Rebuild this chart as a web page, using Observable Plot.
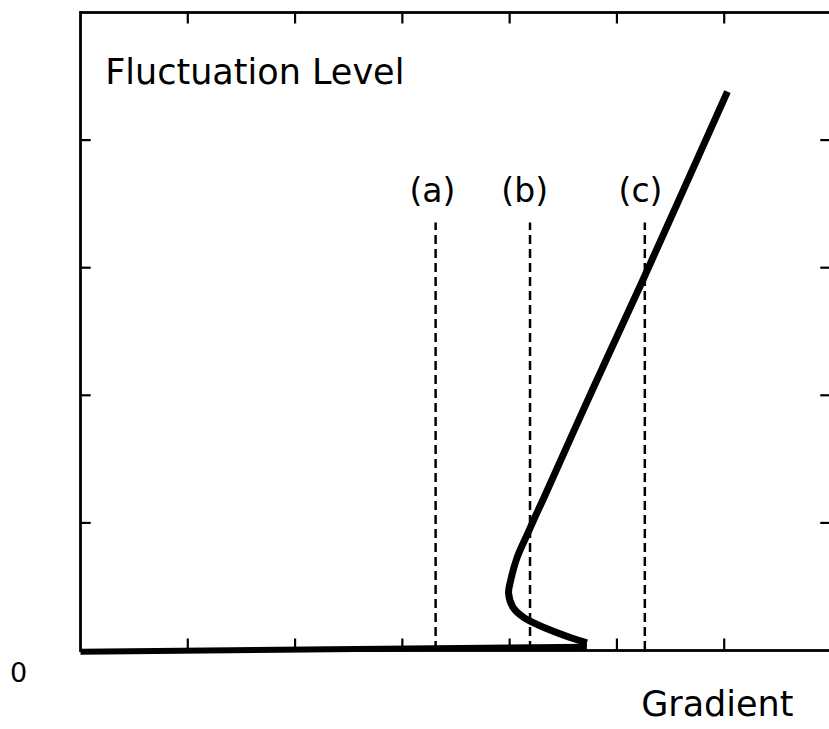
<!DOCTYPE html>
<html>
<head>
<meta charset="utf-8">
<script src="https://cdn.jsdelivr.net/npm/d3@7"></script>
<script src="https://cdn.jsdelivr.net/npm/@observablehq/plot@0.6"></script>
<style>
  html, body { margin: 0; padding: 0; background: white; overflow: hidden; }
</style>
</head>
<body>
<div id="chart"></div>
<script>
// ---- data ----
const xTicks = [1, 2, 3, 4, 5, 6];
const yTicks = [1, 2, 3, 4];
const markerNames = ["(a)", "(b)", "(c)"];
const markerX = [3.31, 4.19, 5.26];
const labelX = [3.28, 4.14, 5.22];
const markerTop = 3.35;
const flatX = [0, 4.72];
const flatY = [-0.01, 0.03];
const curveX = [4.72, 4.57, 4.35, 4.13, 4.03, 3.99, 4.01, 4.07, 4.17, 4.255, 4.31, 4.77, 5.24, 6.03];
const curveY = [0.06, 0.10, 0.17, 0.26, 0.34, 0.45, 0.55, 0.73, 0.92, 1.08, 1.18, 2.04, 2.90, 4.38];
const yTitle = "Fluctuation Level";
const xTitle = "Gradient";
const originLabel = "0";

const markers = markerNames.map((name, i) => ({name, x: markerX[i], lx: labelX[i]}));
const flat = flatX.map((x, i) => ({x, y: flatY[i]}));
const curve = curveX.map((x, i) => ({x, y: curveY[i]}));

const chart = Plot.plot({
  width: 829,
  height: 729,
  marginLeft: 80,
  marginRight: -2,
  marginTop: 12,
  marginBottom: 79,
  x: {domain: [0, 7], axis: null},
  y: {domain: [0, 5], axis: null},
  style: {fontFamily: "DejaVu Sans", background: "white", color: "black", overflow: "visible"},
  marks: [
    Plot.frame({stroke: "black", strokeWidth: 2.8}),
    Plot.ruleX(xTicks, {x: d => d, y1: 5, y2: 5 - 0.09, stroke: "black", strokeWidth: 2.2}),
    Plot.ruleX(xTicks, {x: d => d, y1: 0, y2: 0.09, stroke: "black", strokeWidth: 2.2}),
    Plot.ruleY(yTicks, {y: d => d, x1: 0, x2: 0.1, stroke: "black", strokeWidth: 2.2}),
    Plot.ruleY(yTicks, {y: d => d, x1: 7, x2: 6.9, stroke: "black", strokeWidth: 2.2}),
    Plot.ruleX(markers, {x: "x", y1: 0, y2: markerTop, stroke: "black", strokeWidth: 2.5, strokeDasharray: "9,5"}),
    Plot.text(markers, {x: "lx", y: 3.60, text: "name", fontSize: 33, fill: "black"}),
    Plot.line(flat, {x: "x", y: "y", stroke: "black", strokeWidth: 6, strokeLinecap: "butt"}),
    Plot.line(curve, {x: "x", y: "y", curve: "catmull-rom", stroke: "black", strokeWidth: 7, strokeLinecap: "butt"}),
    Plot.text([yTitle], {x: 0.23, y: 4.53, text: d => d, textAnchor: "start", fontSize: 35, fill: "black"}),
    Plot.text([xTitle], {x: 7, y: 0, text: d => d, textAnchor: "end", dx: -38, dy: 54, fontSize: 35, fill: "black"}),
    Plot.text([originLabel], {x: 0, y: 0, text: d => d, dx: -62, dy: 23, fontSize: 27, fill: "black"})
  ]
});
document.getElementById("chart").appendChild(chart);
</script>
</body>
</html>
